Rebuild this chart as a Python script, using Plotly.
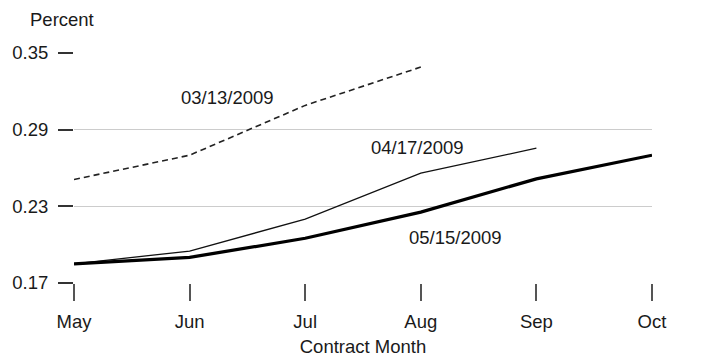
import plotly.graph_objects as go

# Contract months on the x axis
months = ["May", "Jun", "Jul", "Aug", "Sep", "Oct"]

# Implied volatility curves by trade date
mar13_months = ["May", "Jun", "Jul", "Aug"]
mar13_vals = [0.251, 0.270, 0.309, 0.339]

apr17_months = ["May", "Jun", "Jul", "Aug", "Sep"]
apr17_vals = [0.185, 0.195, 0.220, 0.256, 0.2755]

may15_months = months
may15_vals = [0.185, 0.190, 0.205, 0.2255, 0.2515, 0.270]

y_ticks = [0.17, 0.23, 0.29, 0.35]

FONT = "Liberation Sans, Arial, Helvetica, sans-serif"
TXT = "#1a1a1a"
FS = 18.5

fig = go.Figure()
fig.add_trace(go.Scatter(x=mar13_months, y=mar13_vals, mode="lines", name="03/13/2009",
                         line={"color": "#222", "width": 1.6, "dash": "6px,4px"}))
fig.add_trace(go.Scatter(x=apr17_months, y=apr17_vals, mode="lines", name="04/17/2009",
                         line={"color": "#111", "width": 1.3}))
fig.add_trace(go.Scatter(x=may15_months, y=may15_vals, mode="lines", name="05/15/2009",
                         line={"color": "#000", "width": 3.2}))

# series labels placed next to their curves
labels = [
    ("03/13/2009", 1.33, 0.315),
    ("04/17/2009", 2.97, 0.276),
    ("05/15/2009", 3.30, 0.2053),
]
for text, x, y in labels:
    fig.add_annotation(x=x, y=y, xref="x", yref="y", text=text, showarrow=False,
                       font={"size": FS, "color": TXT, "family": FONT})

fig.add_annotation(x=-0.021, y=1.146, xref="paper", yref="paper", text="Percent",
                   showarrow=False, xanchor="center", yanchor="middle",
                   font={"size": FS, "color": TXT, "family": FONT})

# page body has an 8px margin, so the margins are shifted to compensate
fig.update_layout(
    template="none",
    width=709, height=359,
    paper_bgcolor="white", plot_bgcolor="white",
    font={"family": FONT, "size": FS, "color": TXT},
    margin={"l": 66, "r": 65, "t": 45, "b": 84},
    showlegend=False,
    xaxis={
        "type": "category", "categoryorder": "array", "categoryarray": months,
        "range": [0, 5], "showgrid": False, "showline": False, "zeroline": False,
        "ticks": "outside", "ticklen": 17, "tickwidth": 2, "tickcolor": "#555",
        "ticklabelstandoff": 5,
        "title": {"text": "Contract Month", "standoff": 8,
                  "font": {"size": FS, "color": TXT, "family": FONT}},
    },
    yaxis={
        "range": [0.17, 0.35], "tickvals": y_ticks, "ticktext": [f"{v:.2f}" for v in y_ticks],
        "showgrid": True, "gridcolor": "#cccccc", "gridwidth": 1,
        "showline": False, "zeroline": False,
        "ticks": "outside", "ticklen": 15, "tickwidth": 2, "tickcolor": "#333",
        "ticklabelstandoff": 6,
    },
)

fig.write_html("out.html")
